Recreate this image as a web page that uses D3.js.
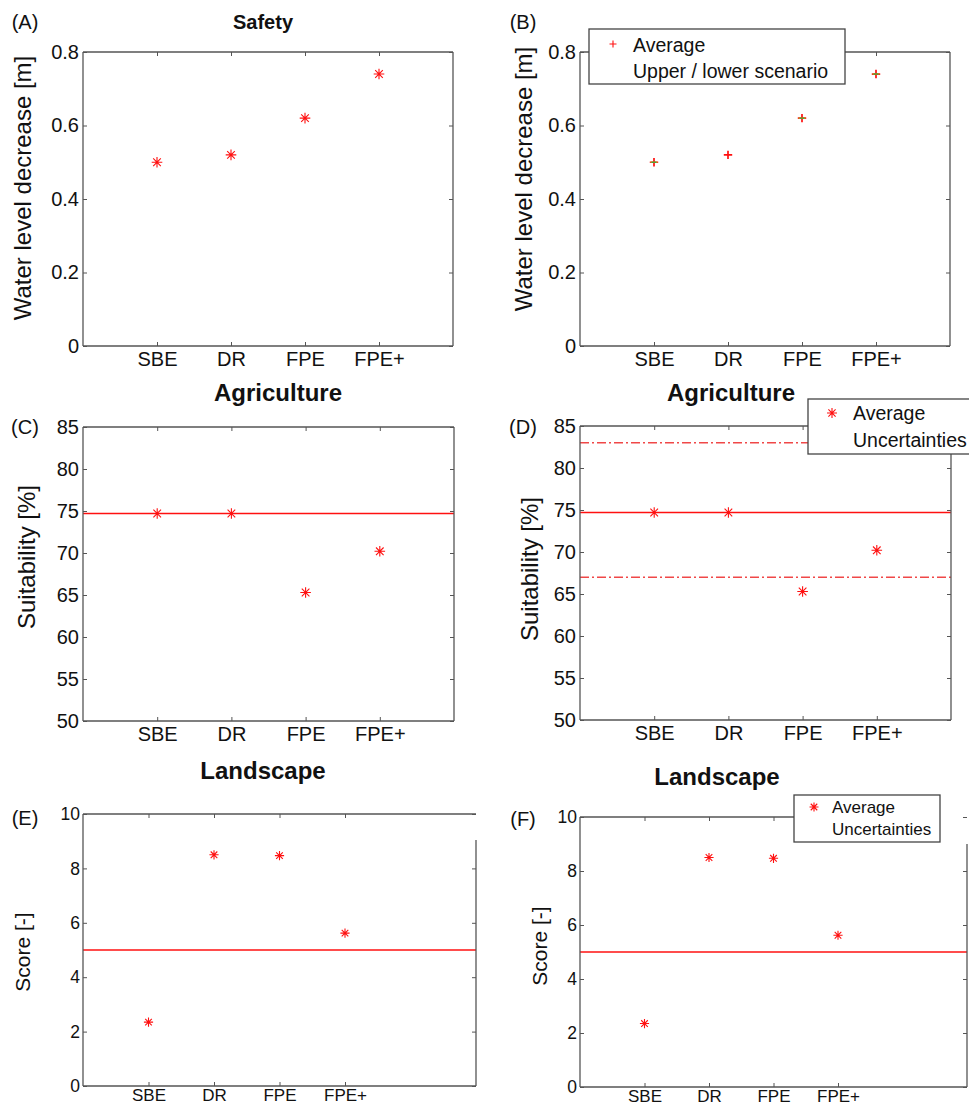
<!DOCTYPE html>
<html>
<head>
<meta charset="utf-8">
<script src="https://cdn.jsdelivr.net/npm/d3@7"></script>
<style>
  body { margin: 0; background: #fff; }
  svg { font-family: "Liberation Sans", Arial, Helvetica, sans-serif; }
  .tick line { stroke: #555; }
  .tick text { fill: #111; }
</style>
</head>
<body>
<svg width="969" height="1105"></svg>
<script>
// data
const categories = ["SBE", "DR", "FPE", "FPE+"];
const safetyAvg = [0.50, 0.52, 0.62, 0.74];
const safetyUpper = [0.50, null, 0.62, 0.74];
const safetyLower = [0.50, null, 0.62, 0.74];
const safetyTicks = [0, 0.2, 0.4, 0.6, 0.8];
const agriAvg = [74.7, 74.7, 65.3, 70.2];
const agriMean = 74.7;
const agriUncert = [83.0, 67.0];
const agriTicks = [50, 55, 60, 65, 70, 75, 80, 85];
const landAvg = [2.35, 8.50, 8.47, 5.62];
const landRef = 5;
const landTicks = [0, 2, 4, 6, 8, 10];

const svg = d3.select("svg");
const RED = "#ff1010";

function star(r) {
  let k = r * 0.72;
  return `M${-r},0H${r}M0,${-r}V${r}M${-k},${-k}L${k},${k}M${-k},${k}L${k},${-k}`;
}
function plus(r) {
  return `M${-r},0H${r}M0,${-r}V${r}`;
}
function dash(r) {
  return `M${-r},0H${r}`;
}

// d3 axes put their own font on the group, drop it so the page font is used
function plain(a) {
  a.attr("font-family", null).attr("font-size", null);
  a.select(".domain").remove();
}

function panel(p) {
  let x = d3.scaleLinear().domain(p.xDomain).range([p.left, p.right]);
  let y = d3.scaleLinear().domain(p.yDomain).range([p.bottom, p.top]);
  let g = svg.append("g");
  let cx = categories.map((c, i) => i + 1);

	// reference lines
  (p.hlines || []).forEach(h => {
    g.append("line")
      .attr("x1", p.left).attr("x2", p.right)
      .attr("y1", y(h.v)).attr("y2", y(h.v))
      .attr("stroke", h.color).attr("stroke-width", 1.5)
      .attr("stroke-dasharray", h.dash || null);
  });

  // axes with inward ticks, MATLAB style
  g.append("g").attr("transform", `translate(0,${p.bottom})`)
    .call(d3.axisBottom(x).tickValues(cx).tickFormat((d, i) => categories[i])
      .tickSizeInner(-4).tickSizeOuter(0).tickPadding(p.xPad))
    .call(plain)
    .selectAll("text").attr("font-size", p.xFont);
  g.append("g").attr("transform", `translate(0,${p.top})`)
    .call(d3.axisTop(x).tickValues(cx).tickFormat("").tickSizeInner(-4).tickSizeOuter(0))
    .call(plain);
  g.append("g").attr("transform", `translate(${p.left},0)`)
    .call(d3.axisLeft(y).tickValues(p.yTicks).tickFormat(d3.format(""))
      .tickSizeInner(-4).tickSizeOuter(0).tickPadding(p.yPad))
    .call(plain)
    .selectAll("text").attr("font-size", p.tickFont);
  g.append("g").attr("transform", `translate(${p.right},0)`)
    .call(d3.axisRight(y).tickValues(p.yTicks).tickFormat("").tickSizeInner(-4).tickSizeOuter(0))
    .call(plain);

  // frame
  let frame = [
    [p.left, p.top, p.left, p.bottom],
    [p.left, p.bottom, p.right, p.bottom],
    [p.left, p.top, p.topEnd || p.right, p.top],
    [p.right, p.rightStart || p.top, p.right, p.bottom]
  ];
  g.selectAll(".frame").data(frame).enter().append("line")
    .attr("x1", d => d[0]).attr("y1", d => d[1])
    .attr("x2", d => d[2]).attr("y2", d => d[3])
    .attr("stroke", "#555").attr("stroke-width", 1.3);

  // marks
  p.series.forEach(s => {
    g.selectAll(null).data(s.values.map((v, i) => [cx[i], v]).filter(d => d[1] != null))
      .enter().append("path")
      .attr("transform", d => `translate(${x(d[0])},${y(d[1])})`)
      .attr("d", s.shape(s.r))
      .attr("fill", "none").attr("stroke", s.color).attr("stroke-width", s.w || 1.1);
  });

  // texts
  svg.append("text").attr("x", p.tag[0]).attr("y", p.tag[1]).attr("dy", "0.35em")
    .attr("text-anchor", "middle").attr("font-size", 20).attr("fill", "#111").text(p.tagText);
  if (p.title) {
    svg.append("text").attr("x", p.titlePos[0]).attr("y", p.titlePos[1]).attr("dy", "0.35em")
      .attr("text-anchor", "middle").attr("font-size", p.titleFont).attr("font-weight", "bold")
      .attr("fill", "#111").text(p.title);
  }
  svg.append("text")
    .attr("transform", `translate(${p.ylabPos[0]},${p.ylabPos[1]}) rotate(-90)`)
    .attr("dy", "0.35em").attr("text-anchor", "middle")
    .attr("font-size", p.ylabFont).attr("fill", "#111").text(p.ylab);

  // legend
  if (p.legend) {
    let L = p.legend;
    svg.append("rect").attr("x", L.x).attr("y", L.y).attr("width", L.w).attr("height", L.h)
      .attr("fill", "#fff").attr("stroke", "#444").attr("stroke-width", 1.3);
    svg.append("path").attr("transform", `translate(${L.mx},${L.my})`)
      .attr("d", L.shape(L.r)).attr("fill", "none").attr("stroke", RED).attr("stroke-width", 1.1);
    L.items.forEach((t, i) => {
      svg.append("text").attr("x", L.tx).attr("y", L.ty[i])
        .attr("font-size", L.font).attr("fill", "#111").text(t);
    });
  }
}

panel({
  left: 83, right: 453, top: 52, bottom: 346, xDomain: [0, 5], yDomain: [0, 0.8],
  yTicks: safetyTicks, tickFont: 20, xFont: 20, xPad: 6, yPad: 4,
  series: [{values: safetyAvg, shape: star, r: 5.3, color: RED}],
  tag: [25, 22], tagText: "(A)", title: "Safety", titlePos: [263, 22], titleFont: 20,
  ylab: "Water level decrease [m]", ylabPos: [23, 188], ylabFont: 24
});
panel({
  left: 580, right: 950, top: 52, bottom: 346, xDomain: [0, 5], yDomain: [0, 0.8],
  yTicks: safetyTicks, tickFont: 20, xFont: 20, xPad: 6, yPad: 4,
  series: [
    {values: safetyAvg, shape: plus, r: 4.2, color: RED, w: 1.7},
    {values: safetyLower, shape: dash, r: 3.5, color: "#d9a020", w: 1.2},
    {values: safetyUpper, shape: dash, r: 2.5, color: "#3fa535", w: 1.3}
  ],
  tag: [523, 22], tagText: "(B)",
  ylab: "Water level decrease [m]", ylabPos: [524, 179], ylabFont: 24,
  legend: {x: 589, y: 29, w: 256, h: 55, mx: 613, my: 44, shape: plus, r: 3.5, font: 19.5,
    tx: 633, ty: [52, 78], items: ["Average", "Upper / lower scenario"]}
});
panel({
  left: 83, right: 454, top: 427, bottom: 721, xDomain: [0, 5], yDomain: [50, 85],
  yTicks: agriTicks, tickFont: 20, xFont: 20, xPad: 6, yPad: 4,
  hlines: [{v: agriMean, color: RED}],
  series: [{values: agriAvg, shape: star, r: 5.3, color: RED}],
  tag: [25, 427], tagText: "(C)", title: "Agriculture", titlePos: [278, 393], titleFont: 24,
  ylab: "Suitability [%]", ylabPos: [27, 557], ylabFont: 24
});
panel({
  left: 580, right: 951, top: 426, bottom: 720, xDomain: [0, 5], yDomain: [50, 85],
  yTicks: agriTicks, tickFont: 20, xFont: 20, xPad: 6, yPad: 4,
  hlines: [
    {v: agriMean, color: RED},
    {v: agriUncert[0], color: "#f04848", dash: "9,3,2,3"},
    {v: agriUncert[1], color: "#f04848", dash: "9,3,2,3"}
  ],
  series: [{values: agriAvg, shape: star, r: 5.3, color: RED}],
  tag: [523, 427], tagText: "(D)", title: "Agriculture", titlePos: [731, 393], titleFont: 24,
  ylab: "Suitability [%]", ylabPos: [530, 569], ylabFont: 24,
  legend: {x: 808, y: 399, w: 170, h: 55, mx: 832, my: 413, shape: star, r: 5, font: 19.5,
    tx: 853, ty: [420, 447], items: ["Average", "Uncertainties"]}
});
panel({
  left: 83, right: 476, top: 814, bottom: 1086, xDomain: [0, 6], yDomain: [0, 10],
  yTicks: landTicks, tickFont: 17.5, xFont: 17, xPad: 3, yPad: 3, rightStart: 840,
  hlines: [{v: landRef, color: RED}],
  series: [{values: landAvg, shape: star, r: 4.6, color: RED}],
  tag: [25, 818], tagText: "(E)", title: "Landscape", titlePos: [263, 771], titleFont: 24,
  ylab: "Score [-]", ylabPos: [23, 952], ylabFont: 21
});
panel({
  left: 580, right: 967, top: 817, bottom: 1087, xDomain: [0, 6], yDomain: [0, 10],
  yTicks: landTicks, tickFont: 17.5, xFont: 17, xPad: 3, yPad: 3, rightStart: 844, topEnd: 940,
  hlines: [{v: landRef, color: RED}],
  series: [{values: landAvg, shape: star, r: 4.6, color: RED}],
  tag: [523, 819], tagText: "(F)", title: "Landscape", titlePos: [717, 777], titleFont: 24,
  ylab: "Score [-]", ylabPos: [540, 946], ylabFont: 21,
  legend: {x: 794, y: 795, w: 146, h: 47, mx: 814, my: 807, shape: star, r: 4.5, font: 17,
    tx: 832, ty: [813, 835], items: ["Average", "Uncertainties"]}
});
</script>
</body>
</html>
